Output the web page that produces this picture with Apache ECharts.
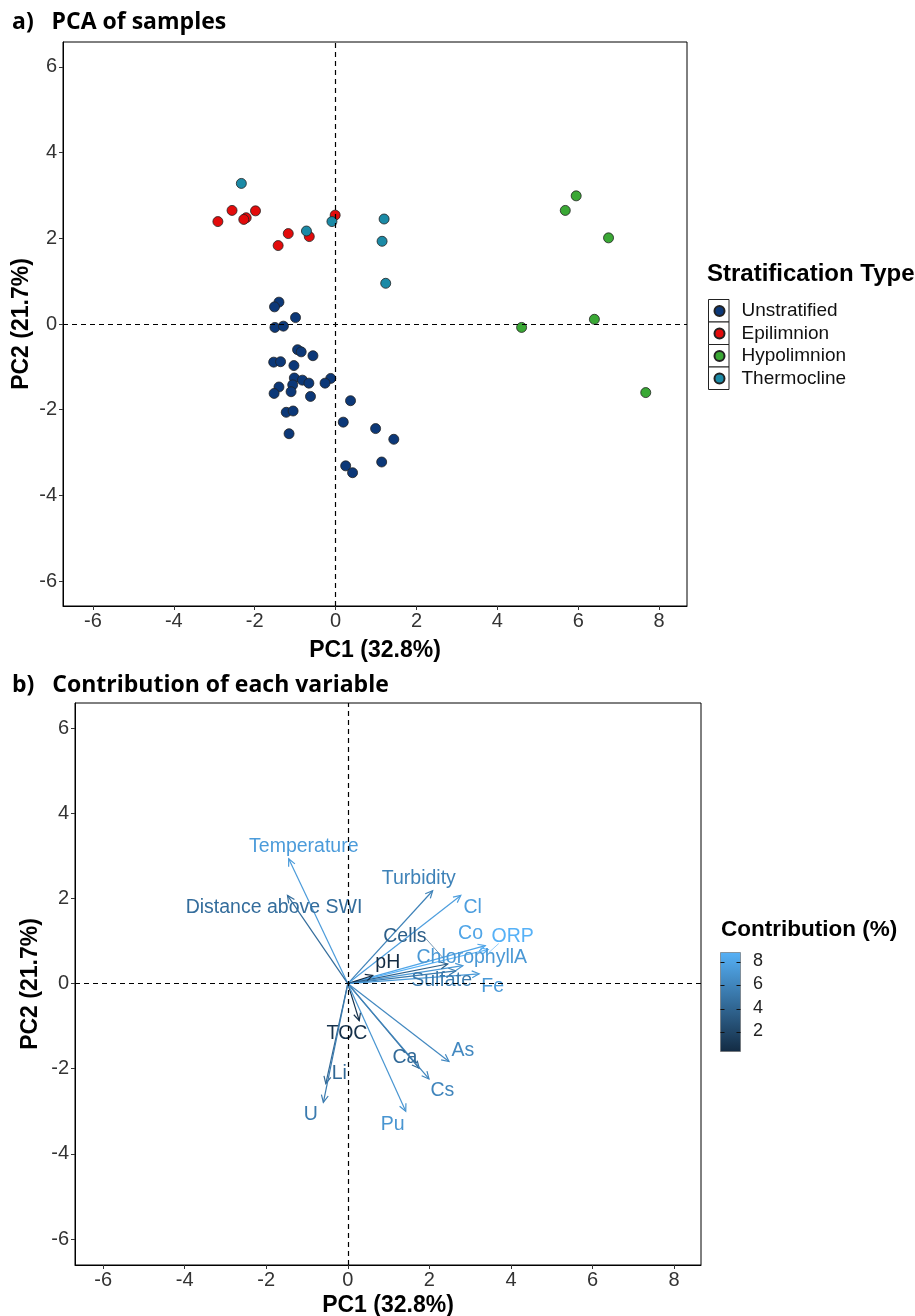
<!DOCTYPE html>
<html>
<head>
<meta charset="utf-8">
<script src="https://cdn.jsdelivr.net/npm/echarts@6/dist/echarts.min.js"></script>
<style>
html,body{margin:0;padding:0;background:#fff;}
#chart{width:915px;height:1316px;}
</style>
</head>
<body>
<div id="chart"></div>
<script>
// ---------- data ----------
const groupNames = ['Unstratified', 'Epilimnion', 'Hypolimnion', 'Thermocline'];
const groupColors = ['#0c3878', '#e30b0b', '#3aa835', '#1b8aa6'];
const unstratified = [[-1.40,0.51],[-1.51,0.40],[-0.99,0.15],[-1.50,-0.08],[-1.29,-0.05],[-0.94,-0.60],[-0.85,-0.65],[-0.56,-0.74],[-1.53,-0.89],[-1.36,-0.88],[-1.03,-0.97],[-1.02,-1.26],[-0.82,-1.31],[-0.66,-1.38],[-0.12,-1.27],[-0.26,-1.38],[-1.06,-1.42],[-1.40,-1.47],[-1.52,-1.62],[-1.10,-1.58],[-0.62,-1.69],[0.37,-1.79],[-1.22,-2.06],[-1.05,-2.03],[0.19,-2.29],[0.99,-2.44],[1.44,-2.69],[-1.15,-2.56],[1.14,-3.22],[0.25,-3.31],[0.42,-3.47]];
const epilimnion = [[-2.91,2.39],[-2.56,2.65],[-2.21,2.48],[-2.27,2.44],[-1.98,2.64],[-1.17,2.11],[-1.42,1.83],[-0.65,2.04],[-0.01,2.54]];
const hypolimnion = [[5.95,2.99],[5.68,2.65],[6.75,2.01],[4.60,-0.08],[6.40,0.11],[7.67,-1.60]];
const thermocline = [[-2.33,3.28],[-0.72,2.17],[-0.09,2.39],[1.20,2.45],[1.15,1.93],[1.24,0.95]];

const varNames   = ['Temperature','Distance above SWI','Turbidity','Cl','Co','ORP','ChlorophyllA','Cells','pH','Sulfate','Fe','TOC','Ca','As','Li','U','Cs','Pu'];
const varPC1     = [-1.45,-1.48,2.08,2.77,3.37,3.44,2.82,2.45,0.61,2.65,3.22,0.28,1.75,2.48,-0.54,-0.60,1.99,1.42];
const varPC2     = [2.93,2.07,2.18,2.07,0.89,0.80,0.42,0.46,0.19,0.30,0.23,-0.87,-1.99,-1.83,-2.35,-2.79,-2.24,-3.00];
const varContrib = [7.4,4.5,5.8,7.6,8.0,8.77,7.2,3.6,0.34,5.3,7.3,0.7,4.3,6.2,4.2,5.4,6.0,7.0];
const labelPC1   = [-1.08,-1.81,1.74,3.06,3.01,4.04,3.04,1.40,0.98,2.30,3.55,-0.02,1.40,2.82,-0.21,-0.91,2.32,1.10];
const labelPC2   = [3.22,1.78,2.46,1.78,1.17,1.10,0.61,1.10,0.49,0.07,-0.07,-1.17,-1.74,-1.57,-2.12,-3.07,-2.51,-3.31];
// label-to-arrow connector segments (ggrepel style), data units
const segVars = ['Cells','ORP'];
const segFrom = [[1.91,1.06],[3.70,0.94]];
const segTo   = [[2.33,0.61],[3.46,0.73]];

const axisTicks = [-6,-4,-2,0,2,4,6,8];
const yTicks = [-6,-4,-2,0,2,4,6];
const colorbarTicks = [2,4,6,8];
const contribRange = [0.34, 8.77];

// ---------- helpers ----------
const lowC = [19,43,67], highC = [86,177,247];
function contribColor(v){
  let t = (v - contribRange[0]) / (contribRange[1] - contribRange[0]);
  t = Math.max(0, Math.min(1, t));
  const c = lowC.map((l,i)=>Math.round(l + (highC[i]-l)*t));
  return 'rgb(' + c.join(',') + ')';
}

const chart = echarts.init(document.getElementById('chart'), null, {renderer:'canvas'});
const tickFont = {fontFamily:'Liberation Sans', fontSize:20, color:'#333'};
const nameFont = {fontFamily:'Liberation Sans', fontSize:23, fontWeight:'bold', color:'#000'};

function xAxisDef(gi, min, max, gap){
  return {
    gridIndex: gi, type:'value', min:min, max:max,
    name:'PC1 (32.8%)', nameLocation:'middle', nameGap:gap, nameTextStyle:nameFont, nameMoveOverlap:false,
    axisLine:{show:true, onZero:false, lineStyle:{color:'#000', width:1}},
    axisTick:{show:true, length:4, customValues:axisTicks, lineStyle:{color:'#333'}},
    axisLabel:{show:true, customValues:axisTicks, margin:5, ...tickFont},
    splitLine:{show:false}
  };
}
function yAxisDef(gi, min, max, gap){
  return {
    gridIndex: gi, type:'value', min:min, max:max,
    name:'PC2 (21.7%)', nameLocation:'middle', nameGap:gap, nameTextStyle:nameFont, nameMoveOverlap:false,
    axisLine:{show:true, onZero:false, lineStyle:{color:'#000', width:1}},
    axisTick:{show:true, length:4, customValues:yTicks, lineStyle:{color:'#333'}},
    axisLabel:{show:true, customValues:yTicks, margin:6, ...tickFont},
    splitLine:{show:false}
  };
}

const zeroLines = (xi, yi) => ({
  type:'line', xAxisIndex:xi, yAxisIndex:yi, data:[], z:1, silent:true,
  markLine:{silent:true, symbol:'none', label:{show:false},
    lineStyle:{type:[5,4], color:'#000', width:1.2},
    data:[{xAxis:0},{yAxis:0}]}
});

const groupData = [unstratified, epilimnion, hypolimnion, thermocline];
const scatterSeries = groupNames.map((n,i)=>({
  type:'scatter', name:n, xAxisIndex:0, yAxisIndex:0, z:3,
  symbol:'circle', symbolSize:10,
  itemStyle:{color:groupColors[i], borderColor:'#222', borderWidth:0.8, opacity:1},
  data: groupData[i]
}));

const arrowData = varNames.map((n,i)=>[varPC1[i], varPC2[i], varContrib[i]]);
const labelData = varNames.map((n,i)=>[labelPC1[i], labelPC2[i], varContrib[i], n]);
const segData = segVars.map((n,i)=>[segFrom[i][0], segFrom[i][1], segTo[i][0], segTo[i][1], varContrib[varNames.indexOf(n)]]);

const cbX = 720.5, cbTop = 952.5, cbH = 99, cbW = 20;
function cbY(v){ return cbTop + cbH * (contribRange[1]-v)/(contribRange[1]-contribRange[0]); }

const graphics = [
  {type:'text', left:12, top:11, style:{text:'a)   PCA of samples', font:'bold 23px "Open Sans"', fill:'#000'}},
  {type:'text', left:12, top:674, style:{text:'b)   Contribution of each variable', font:'bold 23px "Open Sans"', fill:'#000'}},
  {type:'text', left:707, top:262, style:{text:'Stratification Type', font:'bold 24px "Liberation Sans"', fill:'#000'}},
  {type:'text', left:721, top:918, style:{text:'Contribution (%)', font:'bold 22.5px "Liberation Sans"', fill:'#000'}},
  {type:'rect', shape:{x:cbX, y:cbTop, width:cbW, height:cbH},
    style:{fill:new echarts.graphic.LinearGradient(0,0,0,1,[{offset:0,color:contribColor(contribRange[1])},{offset:1,color:contribColor(contribRange[0])}]), stroke:'#666', lineWidth:0.6}}
];
groupNames.forEach((n,i)=>{
  graphics.push({type:'rect', z:1, shape:{x:708.5, y:299.5 + i*22.5, width:20.5, height:22.5}, style:{fill:'#fff', stroke:'#222', lineWidth:1}});
});
colorbarTicks.forEach(v=>{
  const y = Math.round(cbY(v)) + 0.5;
  graphics.push({type:'line', z:10, shape:{x1:cbX, y1:y, x2:cbX+4, y2:y}, style:{stroke:'#111', lineWidth:1}});
  graphics.push({type:'line', z:10, shape:{x1:cbX+cbW-4, y1:y, x2:cbX+cbW, y2:y}, style:{stroke:'#111', lineWidth:1}});
  graphics.push({type:'text', z:10, left:753, top:y-10, style:{text:String(v), font:'18px "Liberation Sans"', fill:'#222'}});
});

const option = {
  animation:false,
  backgroundColor:'#fff',
  grid:[
    {left:63, top:42, width:624, height:564, show:true, borderColor:'#000', borderWidth:1, backgroundColor:'#fff', containLabel:false, outerBoundsMode:'none'},
    {left:75, top:703, width:626, height:562, show:true, borderColor:'#000', borderWidth:1, backgroundColor:'#fff', containLabel:false, outerBoundsMode:'none'}
  ],
  xAxis:[xAxisDef(0,-6.74,8.69,33), xAxisDef(1,-6.69,8.66,29)],
  yAxis:[yAxisDef(0,-6.58,6.58,30), yAxisDef(1,-6.61,6.59,33)],
  legend:{
    show:true, orient:'vertical', left:713.5, top:300, padding:0,
    itemWidth:10, itemHeight:10, itemGap:0.5,
    data:groupNames,
    textStyle:{fontFamily:'Liberation Sans', fontSize:19, color:'#111', padding:[0,0,0,12], lineHeight:22},
    selectedMode:false, z:5
  },
  graphic:graphics,
  series:[
    zeroLines(0,0),
    ...scatterSeries,
    zeroLines(1,1),
    {
      type:'custom', xAxisIndex:1, yAxisIndex:1, z:3, data:arrowData,
      renderItem(params, api){
        const x = api.value(0), y = api.value(1), c = api.value(2);
        const p0 = api.coord([0,0]), p1 = api.coord([x,y]);
        const ang = Math.atan2(p1[1]-p0[1], p1[0]-p0[0]);
        const L = 8, a = Math.PI/7;
        const h1 = [p1[0]-L*Math.cos(ang-a), p1[1]-L*Math.sin(ang-a)];
        const h2 = [p1[0]-L*Math.cos(ang+a), p1[1]-L*Math.sin(ang+a)];
        const col = contribColor(c);
        return {type:'group', children:[
          {type:'line', shape:{x1:p0[0],y1:p0[1],x2:p1[0],y2:p1[1]}, style:{stroke:col, lineWidth:1.2}},
          {type:'polyline', shape:{points:[h1,p1,h2]}, style:{stroke:col, lineWidth:1.2, fill:null}}
        ]};
      }
    },
    {
      type:'custom', xAxisIndex:1, yAxisIndex:1, z:3, data:segData,
      renderItem(params, api){
        const p0 = api.coord([api.value(0), api.value(1)]);
        const p1 = api.coord([api.value(2), api.value(3)]);
        return {type:'line', shape:{x1:p0[0],y1:p0[1],x2:p1[0],y2:p1[1]}, style:{stroke:contribColor(api.value(4)), lineWidth:0.8, opacity:0.8}};
      }
    },
    {
      type:'custom', xAxisIndex:1, yAxisIndex:1, z:4, data:labelData,
      renderItem(params, api){
        const p = api.coord([api.value(0), api.value(1)]);
        const d = labelData[params.dataIndex];
        return {type:'text', x:p[0], y:p[1], style:{text:d[3], fill:contribColor(d[2]), font:'19.5px "Liberation Sans"', align:'center', verticalAlign:'middle'}};
      }
    }
  ]
};
chart.setOption(option);
</script>
</body>
</html>
